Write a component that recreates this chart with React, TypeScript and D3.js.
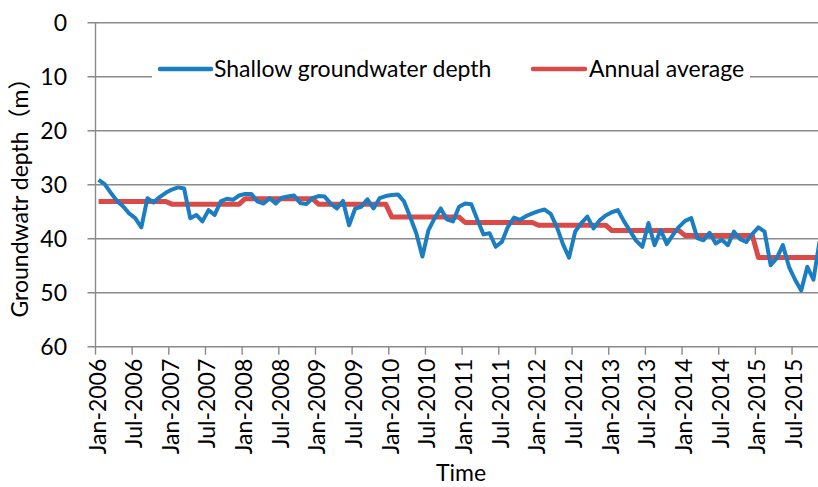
import React from "react";
import * as d3 from "d3";

// monthly shallow groundwater depth (m), Jan-2006 .. Nov-2015
const depth2006 = [29.1, 29.9, 31.5, 33.0, 34.0, 35.3, 36.2, 37.9, 32.5, 33.3, 32.3, 31.5];
const depth2007 = [30.9, 30.5, 30.7, 36.2, 35.6, 36.8, 34.7, 35.6, 33.1, 32.6, 32.8, 32.0];
const depth2008 = [31.7, 31.7, 33.1, 33.5, 32.5, 33.5, 32.4, 32.2, 32.0, 33.4, 33.6, 32.5];
const depth2009 = [32.1, 32.2, 33.5, 34.4, 33.0, 37.5, 34.4, 34.1, 32.7, 34.4, 32.5, 32.1];
const depth2010 = [31.9, 31.8, 33.1, 36.0, 39.0, 43.3, 38.4, 36.2, 34.4, 36.4, 36.8, 34.1];
const depth2011 = [33.5, 33.6, 36.5, 39.2, 39.0, 41.5, 40.6, 37.8, 36.1, 36.5, 35.8, 35.3];
const depth2012 = [34.9, 34.6, 35.4, 37.8, 41.0, 43.5, 38.7, 37.1, 35.9, 38.1, 36.6, 35.7];
const depth2013 = [35.1, 34.7, 36.8, 38.6, 40.4, 41.5, 37.1, 41.2, 38.4, 41.0, 39.3, 37.8];
const depth2014 = [36.7, 36.2, 39.9, 40.3, 38.9, 40.9, 40.2, 41.2, 38.7, 40.1, 40.6, 39.1];
const depth2015 = [37.9, 38.7, 44.9, 43.6, 41.2, 45.2, 47.6, 49.6, 45.2, 47.6, 40.5];

const years = [2006, 2007, 2008, 2009, 2010, 2011, 2012, 2013, 2014, 2015];
const annualAverage = [33.1, 33.6, 32.6, 33.6, 36.0, 37.0, 37.5, 38.5, 39.4, 43.5];

const xTickLabels = [
  "Jan-2006", "Jul-2006", "Jan-2007", "Jul-2007", "Jan-2008", "Jul-2008",
  "Jan-2009", "Jul-2009", "Jan-2010", "Jul-2010", "Jan-2011", "Jul-2011",
  "Jan-2012", "Jul-2012", "Jan-2013", "Jul-2013", "Jan-2014", "Jul-2014",
  "Jan-2015", "Jul-2015",
];
const yTicks = [0, 10, 20, 30, 40, 50, 60];

const shallowDepth = [
  ...depth2006, ...depth2007, ...depth2008, ...depth2009, ...depth2010,
  ...depth2011, ...depth2012, ...depth2013, ...depth2014, ...depth2015,
];
const averageSeries = shallowDepth.map((_, i) => annualAverage[Math.floor(i / 12)]);

const W = 818;
const H = 487;
const BLUE = "#1B7DC2";
const RED = "#DA4A47";
const GRID = "#8A8A8A";
const FONT = "Lato, 'Noto Sans CJK SC', sans-serif";

export default function App() {
  // month index scale (points sit mid-month, like Excel's date axis)
  const x = d3.scaleLinear().domain([0, 119]).range([95.5, 822.6]);
  const y = d3.scaleLinear().domain([0, 60]).range([22.7, 346.7]);
  const left = x(0);
  const bottom = y(60);

  const line = d3
    .line<number>()
    .x((_, i) => x(i + 0.5))
    .y((d) => y(d));

  return (
    <svg
      width={W}
      height={H}
      style={{ position: "absolute", left: 0, top: 0, background: "#fff" }}
      fontFamily={FONT}
    >
      {/* horizontal grid + y ticks */}
      {yTicks.map((t) => (
        <line key={"g" + t} x1={left - 8} x2={W} y1={y(t)} y2={y(t)} stroke={GRID} strokeWidth={1.4} />
      ))}
      {yTicks.map((t) => (
        <text key={"yl" + t} x={67} y={y(t) + 8.5} fontSize={23} textAnchor="end" fill="#000">
          {t}
        </text>
      ))}
      <line x1={left} x2={left} y1={y(0)} y2={bottom} stroke={GRID} strokeWidth={1.4} />

      {/* x axis ticks + labels */}
      {xTickLabels.map((lab, k) => {
        const tx = x(k * 6);
        return (
          <g key={lab}>
            <line x1={tx} x2={tx} y1={bottom} y2={bottom + 8} stroke={GRID} strokeWidth={1.4} />
            <text
              transform={`translate(${tx + 10},${bottom + 12}) rotate(-90)`}
              fontSize={23}
              textAnchor="end"
              fill="#000"
            >
              {lab}
            </text>
          </g>
        );
      })}

      {/* series */}
      <path d={line(averageSeries) || ""} fill="none" stroke={RED} strokeWidth={5} strokeLinejoin="round" />
      <path d={line(shallowDepth) || ""} fill="none" stroke={BLUE} strokeWidth={4} strokeLinejoin="round" />

      {/* legend */}
      <rect x={152} y={50} width={598} height={40} fill="#fff" />
      <line x1={160} x2={211} y1={69} y2={69} stroke={BLUE} strokeWidth={4.5} strokeLinecap="round" />
      <text x={214} y={77} fontSize={23} fill="#000">Shallow groundwater depth</text>
      <line x1={533} x2={585} y1={69} y2={69} stroke={RED} strokeWidth={4.5} strokeLinecap="round" />
      <text x={589} y={77} fontSize={23} fill="#000">Annual average</text>

      {/* axis titles */}
      <text x={461} y={481} fontSize={23} textAnchor="middle" fill="#000">Time</text>
      <text transform="translate(28,192) rotate(-90)" fontSize={23} textAnchor="middle" fill="#000">
        Groundwatr depth（m）
      </text>
    </svg>
  );
}
